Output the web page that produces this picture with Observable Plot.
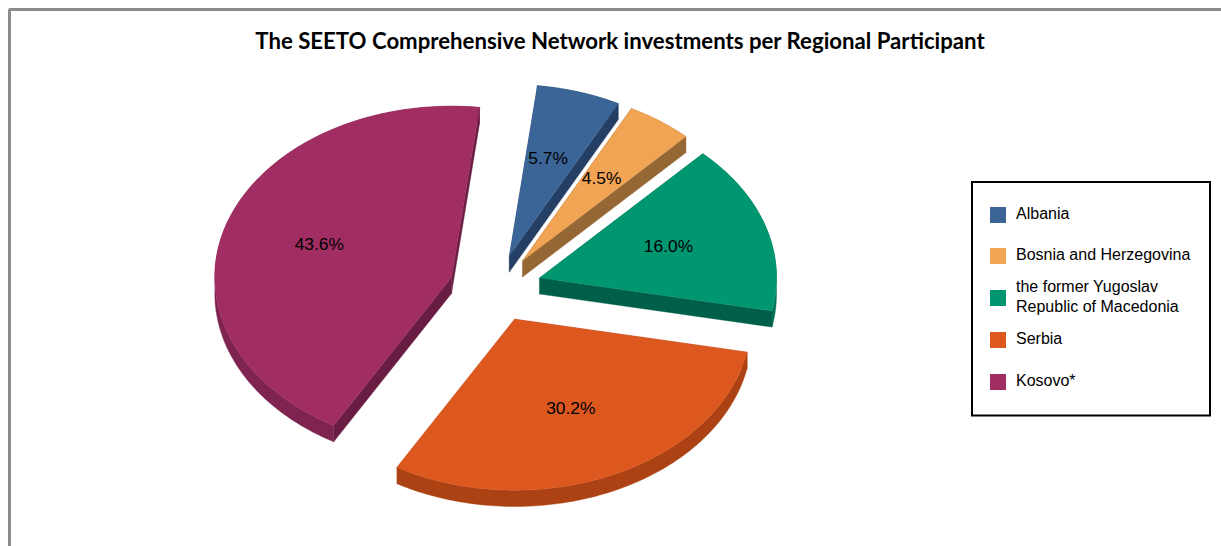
<!DOCTYPE html>
<html>
<head>
<meta charset="utf-8">
<style>html,body{margin:0;padding:0;background:#fff;overflow:hidden}svg{display:block}</style>
<script src="https://cdn.jsdelivr.net/npm/d3@7"></script>
<script src="https://cdn.jsdelivr.net/npm/@observablehq/plot@0.6"></script>
</head>
<body>
<div id="chart"></div>
<script>
const chartTitle = "The SEETO Comprehensive Network investments per Regional Participant";
const regions = ["Albania", "Bosnia and Herzegovina", "the former Yugoslav\nRepublic of Macedonia", "Serbia", "Kosovo*"];
const shares = [5.7, 4.5, 16.0, 30.2, 43.6];
const faceColors = ["#3b6597", "#f0a454", "#009670", "#dd581f", "#a12e62"];
const radialColors = ["#243f63", "#956735", "#005f48", "#ac4214", "#691d42"];
const outerColors = ["#2c4c72", "#b57c40", "#007355", "#ac4214", "#7f2450"];

// Layout of the exploded 3D pie: each slice's own apex, the ellipse radii and the extrusion.
const apexX = [509, 522.3, 539.3, 514.3, 451];
const apexY = [255, 260, 277.3, 318.7, 276.7];
const rx = 236.7, ry = 171, depth = 16.3, startDeg = -83.2, labelAt = 0.575;
const labelNudgeX = [-1.3, 0, -1, -0.5, -3];
const labelNudgeY = [-2.5, -1, -1, 0.7, -1];

const rad = d => d * Math.PI / 180;
let acc = startDeg;
const slices = regions.map((name, i) => {
  const a0 = acc, a1 = acc + shares[i] * 3.6;
  acc = a1;
  const cx = apexX[i], cy = apexY[i];
  const n = Math.max(8, Math.ceil(a1 - a0));
  const arc = d3.range(n + 1).map(k => {
    const a = rad(a0 + (a1 - a0) * k / n);
    return [cx + rx * Math.cos(a), cy + ry * Math.sin(a)];
  });
  const mid = rad((a0 + a1) / 2);
  const down = ([x, y]) => [x, y + depth];
  const first = arc[0], last = arc[n], apex = [cx, cy];
  return {
    i,
    label: shares[i].toFixed(1) + "%",
    lx: cx + labelAt * rx * Math.cos(mid) + labelNudgeX[i],
    ly: cy + labelAt * ry * Math.sin(mid) - 1 + labelNudgeY[i],
    face: [apex, ...arc],
    outer: [...arc, ...arc.map(down).reverse()],
    radialA: [apex, first, down(first), down(apex)],
    radialB: [apex, last, down(last), down(apex)]
  };
});

const poly = (pts, fill) => Plot.line(pts, {x: d => d[0], y: d => d[1], fill, stroke: fill, strokeWidth: 0.4, curve: "linear-closed"});

const legendY = [215, 256, 298, 340, 382];
const legendRows = regions.map((name, i) => ({name, i, y: legendY[i]}));

const marks = [
  // outer frame of the chart area
  Plot.line([[9, 546], [9, 9], [1221, 9]], {x: d => d[0], y: d => d[1], stroke: "#8c8c8c", strokeWidth: 3, strokeLinejoin: "miter"}),
  // slice walls, then faces
  ...slices.flatMap(s => [
    poly(s.outer, outerColors[s.i]),
    poly(s.radialA, radialColors[s.i]),
    poly(s.radialB, radialColors[s.i])
  ]),
  ...slices.map(s => poly(s.face, faceColors[s.i])),
  Plot.text(slices, {x: "lx", y: "ly", text: "label", fontSize: 17.4, fontFamily: "Liberation Sans", fill: "#000", lineAnchor: "middle", textAnchor: "middle"}),
  // title
  Plot.text([chartTitle], {x: 619.5, y: 41, text: d => d, fontSize: 22.2, fontWeight: 700, fontFamily: "Lato", fill: "#000", lineAnchor: "middle", textAnchor: "middle"}),
  // legend
  Plot.rect([0], {x1: 972, x2: 1210, y1: 182, y2: 415.5, fill: "#fff", stroke: "#000", strokeWidth: 2}),
  Plot.rect(legendRows, {x1: 990, x2: 1006, y1: d => d.y - 8, y2: d => d.y + 8, fill: d => faceColors[d.i]}),
  Plot.text(legendRows, {x: 1015.5, y: d => d.y - 3, text: "name", fontSize: 16, lineHeight: 1.22, fontFamily: "Liberation Sans", fill: "#000", textAnchor: "start", lineAnchor: "middle"})
];

const chart = Plot.plot({
  width: 1221, height: 546,
  marginTop: 0, marginRight: 0, marginBottom: 0, marginLeft: 0,
  x: {domain: [0, 1221], range: [0, 1221], axis: null},
  y: {domain: [0, 546], range: [0, 546], axis: null},
  style: {background: "#fff"},
  marks
});
document.getElementById("chart").append(chart);
</script>
</body>
</html>
